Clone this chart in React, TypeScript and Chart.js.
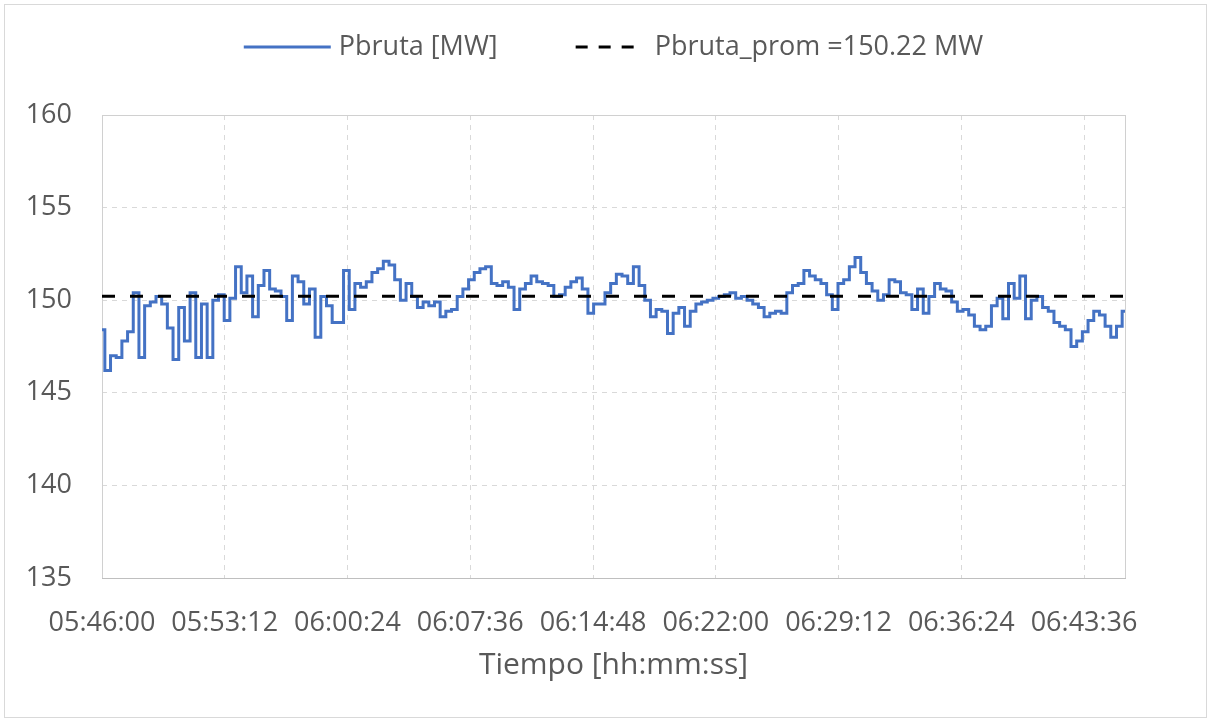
import React, { useEffect, useRef } from "react";
import { Chart, registerables } from "chart.js";

Chart.register(...registerables);

// ---- Data ----
const START_TIME = "05:46:00";
const END_TIME = "06:46:00";
const STEP_SECONDS = 20;
const X_TICK_LABELS = [
  "05:46:00", "05:53:12", "06:00:24", "06:07:36", "06:14:48",
  "06:22:00", "06:29:12", "06:36:24", "06:43:36",
];
const Y_MIN = 135;
const Y_MAX = 160;
const Y_STEP = 5;
const SERIES_LABEL = "Pbruta [MW]";
const MEAN_LABEL = "Pbruta_prom =150.22 MW";
const PBRUTA_PROM = 150.22;
const X_TITLE = "Tiempo [hh:mm:ss]";

const pbruta: number[] = [
  148.4, 146.2, 147.0, 146.9, 147.8, 148.3, 150.4, 146.9, 149.7, 149.9,
  150.2, 149.8, 148.5, 146.8, 149.6, 147.8, 150.4, 146.9, 149.8, 146.9,
  150.0, 150.3, 148.9, 150.1, 151.8, 150.4, 151.3, 149.1, 150.8, 151.6,
  150.6, 150.5, 150.2, 148.9, 151.3, 151.0, 149.8, 150.6, 148.0, 150.2,
  149.7, 148.8, 148.8, 151.6, 149.5, 150.9, 150.7, 151.0, 151.5, 151.7,
  152.1, 151.9, 151.1, 150.0, 150.9, 150.2, 149.6, 149.9, 149.7, 149.9,
  149.1, 149.4, 149.5, 150.2, 150.6, 151.1, 151.5, 151.7, 151.8, 150.9,
  150.8, 151.0, 150.7, 149.5, 150.6, 150.9, 151.3, 151.0, 150.9, 150.8,
  150.2, 150.3, 150.7, 151.0, 151.2, 150.6, 149.3, 149.8, 149.8, 150.4,
  150.9, 151.4, 151.3, 150.9, 151.8, 150.8, 150.0, 149.1, 149.5, 149.4,
  148.2, 149.3, 149.6, 148.6, 149.4, 149.8, 149.9, 150.0, 150.1, 150.2,
  150.3, 150.4, 150.1, 150.2, 150.0, 149.8, 149.6, 149.1, 149.3, 149.4,
  149.3, 150.4, 150.8, 150.9, 151.6, 151.3, 151.1, 150.9, 150.3, 149.5,
  150.9, 151.1, 151.8, 152.3, 151.5, 150.9, 150.5, 150.0, 150.3, 151.1,
  151.0, 150.4, 150.3, 149.5, 150.6, 149.3, 150.2, 150.9, 150.6, 150.5,
  149.9, 149.4, 149.5, 149.2, 148.6, 148.4, 148.6, 149.7, 150.1, 149.0,
  150.9, 150.1, 151.3, 149.0, 150.0, 150.2, 149.6, 149.4, 148.8, 148.6,
  148.4, 147.5, 147.8, 148.3, 148.9, 149.4, 149.2, 148.6, 148.0, 148.6,
  149.4,
];

// ---- Styles ----
const FONT_FAMILY = "'Open Sans', 'DejaVu Sans', sans-serif";
const TEXT_COLOR = "#595959";
const LINE_COLOR = "#4472C4";
const GRID_COLOR = "#d9d9d9";

function toSeconds(hms: string): number {
  const [h, m, s] = hms.split(":").map(Number);
  return h * 3600 + m * 60 + s;
}
function fmt(total: number): string {
  const t = ((Math.round(total) % 86400) + 86400) % 86400;
  const h = Math.floor(t / 3600);
  const m = Math.floor((t % 3600) / 60);
  const s = t % 60;
  const p = (n: number) => String(n).padStart(2, "0");
  return `${p(h)}:${p(m)}:${p(s)}`;
}

const START_SEC = toSeconds(START_TIME);
const X_MAX_SECONDS = toSeconds(END_TIME) - START_SEC;
const X_TICK_VALUES = X_TICK_LABELS.map((l) => toSeconds(l) - START_SEC);

const framePlugin = {
  id: "frame",
  beforeDatasetsDraw(chart: any) {
    const { ctx, chartArea: a } = chart;
    ctx.save();
    ctx.setLineDash([]);
    ctx.lineWidth = 1;
    ctx.strokeStyle = "#d0d0d0";
    ctx.strokeRect(a.left + 0.5, a.top + 0.5, a.right - a.left, a.bottom - a.top);
    ctx.strokeStyle = "#bfbfbf";
    ctx.beginPath();
    ctx.moveTo(a.left, a.bottom + 0.5);
    ctx.lineTo(a.right + 1, a.bottom + 0.5);
    ctx.stroke();
    ctx.restore();
  },
};

const legendPlugin = {
  id: "customLegend",
  afterDraw(chart: any) {
    const { ctx, chartArea: a } = chart;
    const ds = chart.data.datasets;
    const solid = ds[0];
    const dashed = ds[1];
    ctx.save();
    ctx.font = `27px ${FONT_FAMILY}`;
    ctx.textBaseline = "middle";
    ctx.fillStyle = TEXT_COLOR;
    const w1 = ctx.measureText(solid.label).width;
    const w2 = ctx.measureText(dashed.label).width;
    const s1 = 87, g1 = 8, spacing = 78, s2 = 58, g2 = 21;
    const total = s1 + g1 + w1 + spacing + s2 + g2 + w2;
    let x = (a.left + a.right) / 2 - total / 2;
    const y = 47;
    ctx.lineWidth = 3;
    ctx.strokeStyle = solid.borderColor;
    ctx.setLineDash([]);
    ctx.beginPath();
    ctx.moveTo(x, y);
    ctx.lineTo(x + s1, y);
    ctx.stroke();
    x += s1 + g1;
    ctx.fillText(solid.label, x, y);
    x += w1 + spacing;
    ctx.strokeStyle = dashed.borderColor;
    ctx.setLineDash([12, 11]);
    ctx.beginPath();
    ctx.moveTo(x, y);
    ctx.lineTo(x + s2, y);
    ctx.stroke();
    x += s2 + g2;
    ctx.setLineDash([]);
    ctx.fillText(dashed.label, x, y);
    ctx.restore();
  },
};

export default function App() {
  const ref = useRef<HTMLCanvasElement | null>(null);

  useEffect(() => {
    if (!ref.current) return;
    const seriesPoints = pbruta.map((v, i) => ({ x: i * STEP_SECONDS, y: v }));
    const meanPoints = [
      { x: 0, y: PBRUTA_PROM },
      { x: X_MAX_SECONDS, y: PBRUTA_PROM },
    ];
    const chart = new Chart(ref.current, {
      type: "line",
      data: {
        datasets: [
          {
            label: SERIES_LABEL,
            data: seriesPoints,
            borderColor: LINE_COLOR,
            borderWidth: 3,
            pointRadius: 0,
            tension: 0,
            stepped: "middle",
            order: 1,
          },
          {
            label: MEAN_LABEL,
            data: meanPoints,
            borderColor: "#000000",
            borderWidth: 3,
            borderDash: [13, 15],
            pointRadius: 0,
            order: 0,
          },
        ],
      } as any,
      options: {
        animation: false,
        responsive: false,
        maintainAspectRatio: false,
        layout: { padding: { top: 115, right: 86, left: 0, bottom: 0 } },
        plugins: {
          legend: { display: false },
          tooltip: { enabled: false },
        },
        scales: {
          x: {
            type: "linear",
            min: 0,
            max: X_MAX_SECONDS,
            afterBuildTicks: (scale: any) => {
              scale.ticks = X_TICK_VALUES.map((v) => ({ value: v }));
            },
            afterFit: (scale: any) => {
              scale.height = 144;
            },
            border: { display: false, dash: [5, 5] },
            grid: { color: GRID_COLOR, drawTicks: false, lineWidth: 1 },
            ticks: {
              autoSkip: false,
              maxRotation: 0,
              padding: 29,
              color: TEXT_COLOR,
              font: { family: FONT_FAMILY, size: 27 },
              callback: (v: any) => fmt(START_SEC + Number(v)),
            },
            title: {
              display: true,
              text: X_TITLE,
              color: TEXT_COLOR,
              font: { family: FONT_FAMILY, size: 30 },
              padding: { top: 0, bottom: 39 },
            },
          } as any,
          y: {
            min: Y_MIN,
            max: Y_MAX,
            afterFit: (scale: any) => {
              scale.width = 102;
            },
            border: { display: false, dash: [5, 5] },
            grid: { color: GRID_COLOR, drawTicks: false, lineWidth: 1 },
            ticks: {
              stepSize: Y_STEP,
              padding: 30,
              color: TEXT_COLOR,
              font: { family: FONT_FAMILY, size: 27 },
            },
          } as any,
        },
      },
      plugins: [framePlugin, legendPlugin],
    });
    return () => chart.destroy();
  }, []);

  return (
    <div
      style={{
        position: "absolute",
        left: 0,
        top: 0,
        width: 1211,
        height: 722,
        background: "#ffffff",
      }}
    >
      <canvas ref={ref} width={1211} height={722} style={{ display: "block" }} />
      <div
        style={{
          position: "absolute",
          left: 4,
          top: 4,
          width: 1201,
          height: 712,
          border: "1px solid #d9d9d9",
          pointerEvents: "none",
        }}
      />
    </div>
  );
}
